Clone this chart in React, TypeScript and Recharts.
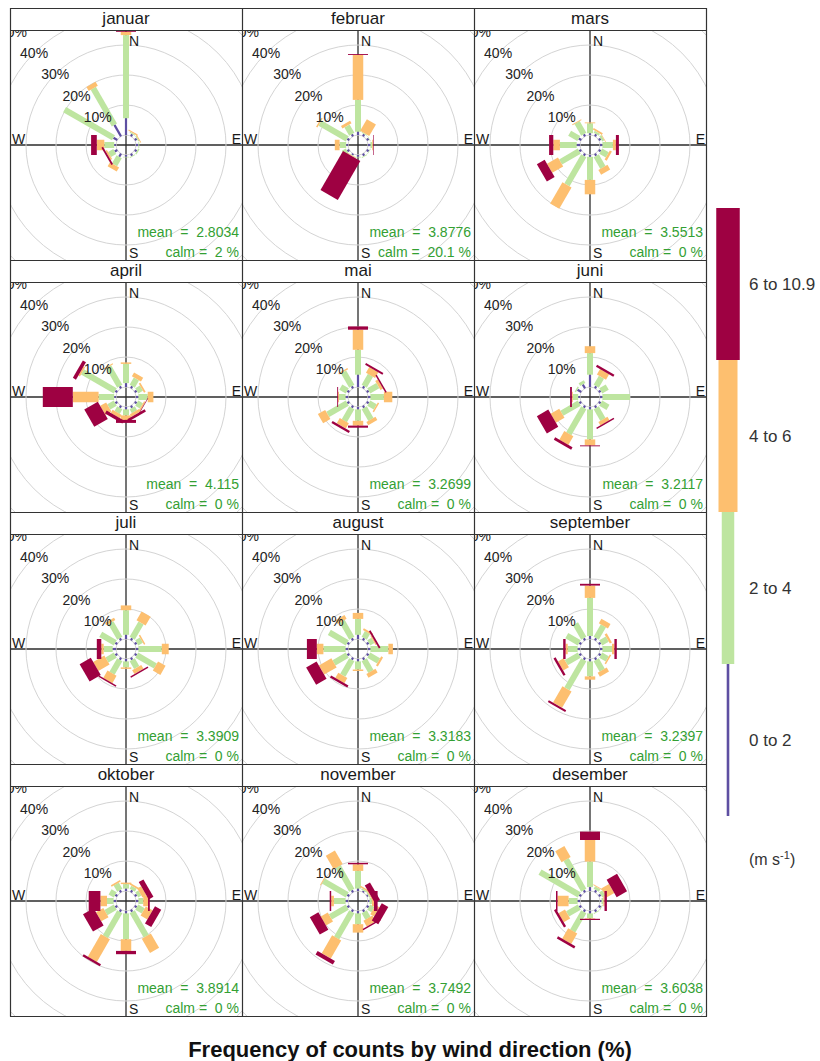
import React from 'react';
import { RadialBarChart, RadialBar, PolarGrid, PolarAngleAxis, PolarRadiusAxis } from 'recharts';

const FONT = '"Liberation Sans", Arial, Helvetica, sans-serif';

const months = ['januar', 'februar', 'mars', 'april', 'mai', 'juni', 'juli', 'august', 'september', 'oktober', 'november', 'desember'];
const directions = ['0', '30', '60', '90', '120', '150', '180', '210', '240', '270', '300', '330'];
const speedBins = ['0 to 2', '2 to 4', '4 to 6', '6 to 10.9'];
const binColors = ['#5E4FA2', '#BEE5A0', '#FDBF6F', '#9E0142'];
const binWidths = [2.2, 6, 10.5, 20];
const meanSpeed = ['2.8034', '3.8776', '3.5513', '4.115', '3.2699', '3.2117', '3.3909', '3.3183', '3.2397', '3.8914', '3.7492', '3.6038'];
const calmPct = ['2', '20.1', '0', '0', '0', '0', '0', '0', '0', '0', '0', '0'];
const pctTicks = [0, 10, 20, 30, 40, 50];

// frequency (%) by direction (0..330 step 30) for each month
const speed0to2 = [
  [5.6, 0.8, 0.8, 0.8, 0.8, 0.8, 0.6, 1.2, 1.0, 0.6, 1.5, 4.4],
  [1.1, 0.8, 0.8, 0.8, 0.8, 0.8, 0.6, 0.5, 0.8, 0.6, 0.8, 0.8],
  [0.6, 0.8, 0.8, 0.8, 0.8, 0.8, 0.6, 0.8, 0.8, 1.1, 1.0, 0.8],
  [1.3, 0.8, 0.8, 0.8, 0.8, 0.8, 0.8, 0.8, 0.8, 0.6, 0.8, 0.8],
  [4.1, 0.8, 0.8, 0.8, 0.8, 0.8, 0.8, 0.8, 0.8, 0.8, 0.8, 0.8],
  [4.1, 0.8, 0.8, 0.8, 0.8, 0.8, 0.8, 0.8, 0.8, 0.6, 1.5, 1.5],
  [1.4, 0.8, 0.8, 0.8, 0.8, 0.8, 0.8, 0.8, 0.8, 1.1, 0.8, 0.8],
  [1.4, 0.8, 0.8, 0.8, 0.8, 0.8, 0.8, 0.8, 0.8, 0.8, 0.8, 0.8],
  [1.0, 0.8, 0.8, 0.8, 0.8, 0.8, 0.8, 0.8, 0.8, 0.8, 0.8, 0.8],
  [0.8, 0.8, 0.8, 0.8, 0.8, 0.8, 0.8, 0.8, 0.8, 0.8, 0.8, 0.8],
  [0.8, 0.5, 0.5, 0.5, 0.8, 0.8, 0.8, 0.8, 0.8, 0.8, 0.8, 0.8],
  [1.3, 0.8, 0.8, 0.5, 0.8, 0.8, 0.8, 0.8, 0.8, 0.8, 0.8, 0.8],
];
const speed2to4 = [
  [27.7, 0.4, 0.4, 0.3, 0.5, 0.3, 0.2, 3.1, 2.0, 3.3, 18.8, 14.1],
  [10.6, 0.3, 0.2, 0.6, 0.2, 0.3, 0.2, 0.2, 1.5, 2.2, 10.5, 3.2],
  [3.3, 0.8, 0.8, 3.5, 2.5, 4.5, 7.7, 11.2, 7.2, 5.6, 3.5, 4.5],
  [6.4, 2.8, 1.8, 3.1, 1.8, 1.5, 2.0, 1.8, 2.5, 5.2, 12.6, 7.5],
  [8.3, 4.2, 3.5, 4.5, 2.5, 4.5, 3.8, 5.0, 7.5, 2.2, 2.5, 5.5],
  [7.2, 3.5, 2.5, 9.2, 2.8, 4.5, 10.0, 10.0, 6.7, 1.8, 0.5, 1.0],
  [8.2, 5.9, 1.8, 7.8, 7.2, 3.0, 2.0, 5.2, 3.2, 3.0, 5.6, 6.0],
  [5.3, 2.2, 1.6, 6.0, 3.8, 4.5, 2.7, 6.0, 5.1, 7.4, 6.9, 6.5],
  [12.7, 4.8, 2.5, 3.2, 2.5, 4.0, 5.0, 11.2, 5.0, 3.3, 4.8, 5.6],
  [1.5, 1.2, 1.2, 1.6, 2.5, 9.4, 8.6, 9.6, 3.6, 2.2, 2.0, 2.4],
  [5.9, 0.5, 0.4, 0.8, 1.6, 2.5, 3.6, 10.1, 6.5, 3.9, 9.2, 9.1],
  [8.5, 1.0, 1.2, 0.6, 0.3, 0.3, 1.6, 7.4, 4.5, 3.0, 15.1, 11.8],
];
const speed4to6 = [
  [1.1, 0.4, 0.3, 0, 0, 0, 0, 1.6, 0.6, 2.5, 0, 1.5],
  [15.0, 4.5, 0, 0.3, 0, 0, 0, 0.2, 0, 1.6, 0.5, 1.0],
  [0.3, 0.6, 0.2, 1.0, 0.8, 1.8, 4.8, 8.2, 4.2, 2.2, 0, 0.3],
  [0.5, 1.5, 0.6, 1.9, 0.5, 1.0, 1.5, 1.2, 2.3, 8.6, 0.6, 0.3],
  [6.7, 2.2, 1.0, 2.8, 0.5, 1.2, 1.6, 2.0, 2.8, 0.3, 0, 0.5],
  [2.3, 2.1, 0, 0, 0, 1.3, 2.0, 3.3, 3.3, 0.3, 0, 0],
  [1.6, 3.4, 0.5, 2.3, 2.9, 1.5, 0.5, 2.8, 4.3, 0.8, 0, 0.9],
  [2.0, 0.6, 0.4, 1.5, 0.7, 1.4, 0.5, 2.0, 4.8, 2.2, 0, 1.4],
  [4.1, 1.7, 0.8, 0.8, 0.5, 1.5, 1.1, 6.3, 2.2, 0.7, 0, 0],
  [0.5, 0.6, 1.5, 1.6, 2.6, 5.5, 3.9, 8.7, 2.8, 2.2, 0, 0.5],
  [2.2, 0.5, 0.3, 0.7, 1.5, 2.2, 2.8, 6.9, 2.7, 0.9, 0.3, 5.2],
  [7.2, 0.3, 3.0, 0.4, 0, 0, 0.2, 4.0, 2.5, 3.7, 0, 4.2],
];
const speed6to11 = [
  [0.4, 0, 0, 0, 0, 0, 0, 0, 0.6, 1.9, 0, 0],
  [0.3, 0, 0, 0.2, 0, 0, 0, 15.0, 0, 0, 0, 0],
  [0, 0, 0, 1.0, 0, 0, 0, 0, 3.0, 1.4, 0, 0],
  [0, 0, 0, 0, 0.2, 0.9, 1.0, 1.1, 5.2, 10.0, 1.2, 0],
  [1.1, 0.6, 0.5, 0, 0, 0, 0.7, 0.8, 0, 0.3, 0, 0],
  [0, 0.8, 0, 0, 0, 0.5, 0.3, 0.9, 4.4, 0.6, 0, 0],
  [0, 0, 0, 0, 0, 0.5, 0, 0.5, 4.3, 1.5, 0, 0],
  [0, 0, 0.6, 0, 0, 0, 0, 0.8, 4.0, 3.3, 0, 0],
  [0.6, 0, 0, 0.8, 0, 0, 0, 0.7, 0.8, 0.8, 0, 0],
  [0, 0, 1.8, 0.6, 2.4, 0, 1.1, 0.8, 4.1, 3.9, 0, 0],
  [0.5, 0, 2.0, 1.2, 2.5, 0.5, 0, 1.4, 3.3, 0.5, 0, 0],
  [2.8, 0, 4.0, 0.8, 0, 0, 0.4, 0.8, 0.8, 0.5, 0, 0],
];

const speedTables = [speed0to2, speed2to4, speed4to6, speed6to11];
const binKeys = ['s1', 's2', 's3', 's4'];

const PANEL_W = 232;
const BODY_H = 230;
const STRIP_H = 22;
const ROW_H = 252;
const GRID_LEFT = 10;
const GRID_TOP = 8;

function Paddle(props: any) {
  const { cx, cy, innerRadius, outerRadius, startAngle, endAngle, fill, halfWidth } = props;
  if (!(outerRadius - innerRadius > 0.05)) return <g />;
  const a = (((startAngle + endAngle) / 2) * Math.PI) / 180;
  const ux = Math.cos(a);
  const uy = -Math.sin(a);
  const vx = -uy;
  const vy = ux;
  const pt = (r: number, s: number) => `${cx + r * ux + s * halfWidth * vx},${cy + r * uy + s * halfWidth * vy}`;
  return (
    <polygon
      points={[pt(innerRadius, -1), pt(outerRadius, -1), pt(outerRadius, 1), pt(innerRadius, 1)].join(' ')}
      fill={fill}
      stroke="none"
    />
  );
}

function PctTick(props: any) {
  const { x, y, payload } = props;
  if (!payload || payload.value === 0) return <g />;
  return (
    <text x={x} y={y} textAnchor="middle" dominantBaseline="central" fontSize={14} fill="#222" fontFamily={FONT}>
      {payload.value}%
    </text>
  );
}

function Rose({ m }: { m: number }) {
  const data = directions.map((d, i) => {
    const row: any = { dir: d };
    binKeys.forEach((k, b) => {
      row[k] = speedTables[b][m][i];
    });
    return row;
  });
  return (
    <RadialBarChart
      width={PANEL_W}
      height={BODY_H}
      data={data}
      layout="centric"
      cx={PANEL_W / 2}
      cy={BODY_H / 2}
      innerRadius={10}
      outerRadius={160}
      startAngle={75}
      endAngle={-285}
      margin={{ top: 0, right: 0, bottom: 0, left: 0 }}
      barCategoryGap="10%"
    >
      <PolarGrid gridType="circle" radialLines={false} stroke="#d4d4d4" strokeWidth={1} />
      <PolarAngleAxis type="category" dataKey="dir" tick={false} axisLine={false} tickLine={false} />
      <PolarRadiusAxis
        type="number"
        domain={[0, 50]}
        ticks={pctTicks}
        tickCount={6}
        angle={135}
        axisLine={false}
        tickLine={false}
        tick={<PctTick />}
        allowDataOverflow
      />
      {binKeys.map((k, b) => (
        <RadialBar
          key={k}
          dataKey={k}
          stackId="ws"
          fill={binColors[b]}
          isAnimationActive={false}
          shape={(p: any) => <Paddle {...p} fill={binColors[b]} halfWidth={binWidths[b] / 2} />}
        />
      ))}
    </RadialBarChart>
  );
}

function Panel({ m }: { m: number }) {
  const row = Math.floor(m / 3);
  const col = m % 3;
  const left = GRID_LEFT + col * PANEL_W;
  const top = GRID_TOP + row * ROW_H;
  const cx = PANEL_W / 2;
  const cy = BODY_H / 2;
  return (
    <>
      <div
        style={{
          position: 'absolute',
          left,
          top,
          width: PANEL_W,
          height: STRIP_H,
          lineHeight: `${STRIP_H}px`,
          textAlign: 'center',
          fontSize: 17,
          color: '#1a1a1a',
          fontFamily: FONT,
        }}
      >
        {months[m]}
      </div>
      <div style={{ position: 'absolute', left, top: top + STRIP_H, width: PANEL_W, height: BODY_H, overflow: 'hidden' }}>
        <svg width={PANEL_W} height={BODY_H} style={{ position: 'absolute', left: 0, top: 0 }}>
          <line x1={cx} y1={0} x2={cx} y2={BODY_H} stroke="#2b2b2b" strokeWidth={1.3} />
          <line x1={0} y1={cy} x2={PANEL_W} y2={cy} stroke="#2b2b2b" strokeWidth={1.3} />
        </svg>
        <div style={{ position: 'absolute', left: 0, top: 0 }}>
          <Rose m={m} />
        </div>
        <svg width={PANEL_W} height={BODY_H} style={{ position: 'absolute', left: 0, top: 0 }} fontFamily={FONT}>
          <text x={cx + 3} y={16} fontSize={14} fill="#1a1a1a">N</text>
          <text x={cx + 3} y={BODY_H - 2} fontSize={14} fill="#1a1a1a">S</text>
          <text x={2} y={cy - 1.5} fontSize={14} fill="#1a1a1a">W</text>
          <text x={PANEL_W - 1} y={cy - 1.5} fontSize={14} fill="#1a1a1a" textAnchor="end">E</text>
          <text x={PANEL_W - 3} y={BODY_H - 23} fontSize={14} fill="#33a033" textAnchor="end" style={{ whiteSpace: 'pre' }}>
            {`mean  =  ${meanSpeed[m]}`}
          </text>
          <text x={PANEL_W - 3} y={BODY_H - 3} fontSize={14} fill="#33a033" textAnchor="end" style={{ whiteSpace: 'pre' }}>
            {`calm =  ${calmPct[m]} %`}
          </text>
        </svg>
      </div>
    </>
  );
}

function Frame() {
  const xs = [0, 1, 2, 3].map((c) => GRID_LEFT + c * PANEL_W + 0.5);
  const bottom = GRID_TOP + 4 * ROW_H;
  const hs: number[] = [];
  for (let r = 0; r <= 4; r++) hs.push(GRID_TOP + r * ROW_H + 0.5);
  const ss: number[] = [];
  for (let r = 0; r < 4; r++) ss.push(GRID_TOP + r * ROW_H + STRIP_H + 0.5);
  return (
    <svg width={820} height={1061} style={{ position: 'absolute', left: 0, top: 0, pointerEvents: 'none' }}>
      {xs.map((x, i) => (
        <line key={`v${i}`} x1={x} y1={GRID_TOP} x2={x} y2={bottom + 0.5} stroke="#333" strokeWidth={1.2} />
      ))}
      {hs.map((y, i) => (
        <line key={`h${i}`} x1={GRID_LEFT} y1={y} x2={GRID_LEFT + 3 * PANEL_W + 1} y2={y} stroke="#333" strokeWidth={1.2} />
      ))}
      {ss.map((y, i) => (
        <line key={`s${i}`} x1={GRID_LEFT} y1={y} x2={GRID_LEFT + 3 * PANEL_W + 1} y2={y} stroke="#333" strokeWidth={1.2} />
      ))}
    </svg>
  );
}

function ColourKey() {
  const segTop = 208;
  const segH = 152;
  const keyWidths = [2.6, 12.5, 19, 23.5];
  const cxKey = 728;
  return (
    <svg width={820} height={1061} style={{ position: 'absolute', left: 0, top: 0 }} fontFamily={FONT}>
      {speedBins.map((lab, i) => {
        const idx = 3 - i;
        const y0 = segTop + i * segH;
        return (
          <g key={lab}>
            <rect x={cxKey - keyWidths[idx] / 2} y={y0} width={keyWidths[idx]} height={segH} fill={binColors[idx]} />
            <text x={749} y={y0 + segH / 2} fontSize={17} fill="#333" dominantBaseline="central">
              {speedBins[idx]}
            </text>
          </g>
        );
      })}
      <text x={749} y={865} fontSize={16} fill="#333">
        (m s<tspan dy={-6} fontSize={11}>-1</tspan><tspan dy={6}>)</tspan>
      </text>
      <text x={410} y={1057} fontSize={22} fontWeight="bold" fill="#111" textAnchor="middle">
        Frequency of counts by wind direction (%)
      </text>
    </svg>
  );
}

export default function App() {
  return (
    <div style={{ position: 'absolute', left: 0, top: 0, width: 820, height: 1061, background: '#fff', fontFamily: FONT }}>
      <ColourKey />
      {months.map((_, m) => (
        <Panel key={m} m={m} />
      ))}
      <Frame />
    </div>
  );
}
